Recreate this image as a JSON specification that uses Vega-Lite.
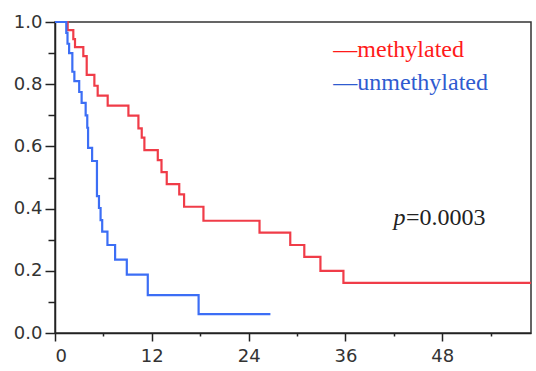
{
  "$schema": "https://vega.github.io/schema/vega-lite/v6.json",
  "width": 476,
  "height": 311,
  "autosize": "none",
  "padding": {"left": 55, "top": 22, "right": 5, "bottom": 38},
  "background": "white",
  "config": {
    "view": {"stroke": "#333333", "strokeWidth": 1.5},
    "axis": {
      "grid": false,
      "title": null,
      "labelFont": "DejaVu Sans",
      "labelFontSize": 18,
      "labelColor": "#333333",
      "domainColor": "#222222",
      "domainWidth": 1.5,
      "tickColor": "#222222",
      "tickWidth": 1.5
    }
  },
  "resolve": {"axis": {"x": "independent", "y": "independent"}},
  "layer": [
    {
      "data": {
        "values": [
          {"group": "methylated", "t": 0, "s": 1.0},
          {"group": "methylated", "t": 1.57, "s": 0.974},
          {"group": "methylated", "t": 2.27, "s": 0.945},
          {"group": "methylated", "t": 2.48, "s": 0.919},
          {"group": "methylated", "t": 3.51, "s": 0.89},
          {"group": "methylated", "t": 3.93, "s": 0.83},
          {"group": "methylated", "t": 4.88, "s": 0.795},
          {"group": "methylated", "t": 5.29, "s": 0.763},
          {"group": "methylated", "t": 6.53, "s": 0.731},
          {"group": "methylated", "t": 9.1, "s": 0.699},
          {"group": "methylated", "t": 10.34, "s": 0.658},
          {"group": "methylated", "t": 10.75, "s": 0.628},
          {"group": "methylated", "t": 11.08, "s": 0.588},
          {"group": "methylated", "t": 12.74, "s": 0.556},
          {"group": "methylated", "t": 13.2, "s": 0.517},
          {"group": "methylated", "t": 13.85, "s": 0.479},
          {"group": "methylated", "t": 15.4, "s": 0.446},
          {"group": "methylated", "t": 16.0, "s": 0.406},
          {"group": "methylated", "t": 18.4, "s": 0.361},
          {"group": "methylated", "t": 25.35, "s": 0.323},
          {"group": "methylated", "t": 29.16, "s": 0.283},
          {"group": "methylated", "t": 30.9, "s": 0.245},
          {"group": "methylated", "t": 32.9, "s": 0.2},
          {"group": "methylated", "t": 35.75, "s": 0.161},
          {"group": "methylated", "t": 59, "s": 0.161},
          {"group": "unmethylated", "t": 0, "s": 1.0},
          {"group": "unmethylated", "t": 1.4, "s": 0.965},
          {"group": "unmethylated", "t": 1.55, "s": 0.93},
          {"group": "unmethylated", "t": 1.75, "s": 0.9},
          {"group": "unmethylated", "t": 2.15, "s": 0.84},
          {"group": "unmethylated", "t": 2.4, "s": 0.81},
          {"group": "unmethylated", "t": 3.0, "s": 0.775},
          {"group": "unmethylated", "t": 3.3, "s": 0.74},
          {"group": "unmethylated", "t": 3.8, "s": 0.7},
          {"group": "unmethylated", "t": 4.0, "s": 0.66},
          {"group": "unmethylated", "t": 4.1, "s": 0.595},
          {"group": "unmethylated", "t": 4.6, "s": 0.553},
          {"group": "unmethylated", "t": 5.2, "s": 0.44},
          {"group": "unmethylated", "t": 5.45, "s": 0.402},
          {"group": "unmethylated", "t": 5.65, "s": 0.363},
          {"group": "unmethylated", "t": 5.85, "s": 0.326},
          {"group": "unmethylated", "t": 6.5, "s": 0.283},
          {"group": "unmethylated", "t": 7.45, "s": 0.236},
          {"group": "unmethylated", "t": 8.9, "s": 0.188},
          {"group": "unmethylated", "t": 11.5, "s": 0.122},
          {"group": "unmethylated", "t": 17.8, "s": 0.061},
          {"group": "unmethylated", "t": 26.7, "s": 0.061}
        ]
      },
      "mark": {"type": "line", "interpolate": "step-after", "strokeWidth": 2.2},
      "encoding": {
        "x": {
          "field": "t", "type": "quantitative",
          "scale": {"domain": [0, 59], "nice": false, "zero": false},
          "axis": {"orient": "bottom", "values": [0, 12, 24, 36, 48], "tickSize": 8, "labelPadding": 6, "format": "d"}
        },
        "y": {
          "field": "s", "type": "quantitative",
          "scale": {"domain": [0, 1], "nice": false},
          "axis": {"orient": "left", "values": [0, 0.2, 0.4, 0.6, 0.8, 1.0], "tickSize": 10, "labelPadding": 3, "format": ".1f"}
        },
        "color": {
          "field": "group", "type": "nominal",
          "scale": {"domain": ["methylated", "unmethylated"], "range": ["#f03c48", "#3c6ef5"]},
          "legend": null
        }
      }
    },
    {
      "data": {"values": [{"label": "—methylated"}]},
      "mark": {"type": "text", "font": "Liberation Serif", "fontSize": 24, "align": "left", "baseline": "alphabetic", "color": "#ff1a1a"},
      "encoding": {
        "text": {"field": "label"},
        "x": {
          "datum": 34.5, "type": "quantitative",
          "scale": {"domain": [0, 59], "nice": false, "zero": false},
          "axis": {"orient": "bottom", "values": [6, 18, 30, 42, 54], "tickSize": 3, "labels": false, "domain": false}
        },
        "y": {
          "datum": 0.887, "type": "quantitative",
          "scale": {"domain": [0, 1], "nice": false},
          "axis": {"orient": "left", "values": [0.1, 0.3, 0.5, 0.7, 0.9], "tickSize": 7, "labels": false, "domain": false}
        }
      }
    },
    {
      "data": {"values": [{"label": "—unmethylated"}]},
      "mark": {"type": "text", "font": "Liberation Serif", "fontSize": 24, "align": "left", "baseline": "alphabetic", "color": "#2f5bd0"},
      "encoding": {
        "text": {"field": "label"},
        "x": {"datum": 34.5, "type": "quantitative", "scale": {"domain": [0, 59], "nice": false, "zero": false}, "axis": null},
        "y": {"datum": 0.781, "type": "quantitative", "scale": {"domain": [0, 1], "nice": false}, "axis": null}
      }
    },
    {
      "data": {"values": [{"label": "p"}]},
      "mark": {"type": "text", "font": "Liberation Serif", "fontSize": 24, "fontStyle": "italic", "align": "right", "baseline": "alphabetic", "color": "#222222"},
      "encoding": {
        "text": {"field": "label"},
        "x": {"datum": 43.45, "type": "quantitative", "scale": {"domain": [0, 59], "nice": false, "zero": false}, "axis": null},
        "y": {"datum": 0.347, "type": "quantitative", "scale": {"domain": [0, 1], "nice": false}, "axis": null}
      }
    },
    {
      "data": {"values": [{"label": "=0.0003"}]},
      "mark": {"type": "text", "font": "Liberation Serif", "fontSize": 24, "align": "left", "baseline": "alphabetic", "color": "#222222"},
      "encoding": {
        "text": {"field": "label"},
        "x": {"datum": 43.5, "type": "quantitative", "scale": {"domain": [0, 59], "nice": false, "zero": false}, "axis": null},
        "y": {"datum": 0.347, "type": "quantitative", "scale": {"domain": [0, 1], "nice": false}, "axis": null}
      }
    }
  ]
}
